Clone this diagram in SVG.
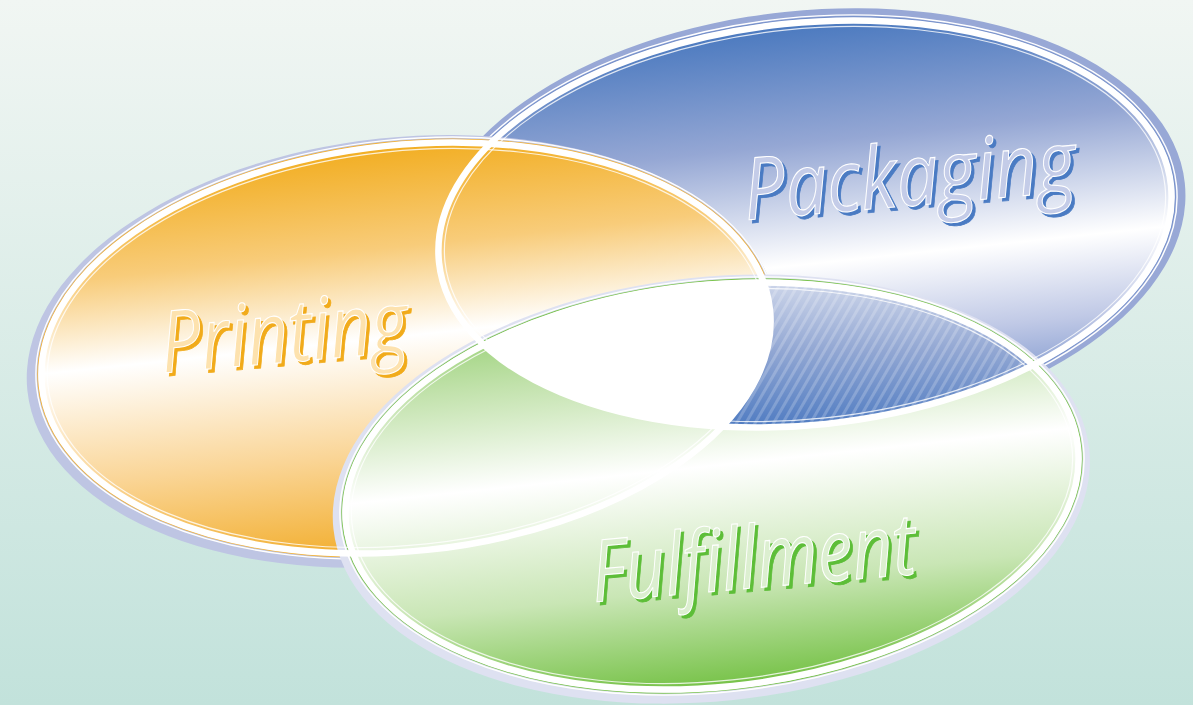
<svg xmlns="http://www.w3.org/2000/svg" width="1193" height="705" viewBox="0 0 1193 705">
<defs>
  <linearGradient id="bg" x1="0" y1="0" x2="0" y2="1">
    <stop offset="0" stop-color="#F1F6F3"/>
    <stop offset="1" stop-color="#C2E2DB"/>
  </linearGradient>
  <linearGradient id="gP" x1="0" y1="0" x2="0" y2="1">
    <stop offset="0" stop-color="#F2AE22"/>
    <stop offset="0.25" stop-color="#F8CC7A"/>
    <stop offset="0.47" stop-color="#FFFFFF"/>
    <stop offset="0.75" stop-color="#FAD596"/>
    <stop offset="1" stop-color="#F2AE2E"/>
  </linearGradient>
  <linearGradient id="gK" x1="0" y1="0" x2="0" y2="1">
    <stop offset="0" stop-color="#4A79BF"/>
    <stop offset="0.3" stop-color="#95A7D4"/>
    <stop offset="0.6" stop-color="#FFFFFF"/>
    <stop offset="0.8" stop-color="#C0C9E6"/>
    <stop offset="1" stop-color="#6D8AC7"/>
  </linearGradient>
  <linearGradient id="gF" x1="0" y1="0" x2="0" y2="1">
    <stop offset="0" stop-color="#8CCB65"/>
    <stop offset="0.2" stop-color="#C2E2AC"/>
    <stop offset="0.45" stop-color="#FFFFFF"/>
    <stop offset="0.75" stop-color="#C9E6B5"/>
    <stop offset="1" stop-color="#76C247"/>
  </linearGradient>
  <linearGradient id="gKF" gradientUnits="userSpaceOnUse" x1="0" y1="285" x2="0" y2="430">
    <stop offset="0" stop-color="#CBD4E9"/>
    <stop offset="0.45" stop-color="#92A7D3"/>
    <stop offset="1" stop-color="#4D7AC1"/>
  </linearGradient>
  <pattern id="stripes" patternUnits="userSpaceOnUse" width="8" height="8" patternTransform="rotate(30)">
    <rect x="0" y="0" width="3" height="8" fill="#FFFFFF" fill-opacity="0.2"/>
  </pattern>
  <ellipse id="E" cx="0" cy="0" rx="368" ry="201"/>
  <ellipse id="EP" cx="0" cy="0" rx="366" ry="203"/>
  <clipPath id="cP"><use href="#EP" transform="translate(406 348) rotate(-6)"/></clipPath>
  <clipPath id="cK"><use href="#E" transform="translate(805 224) rotate(-6)"/></clipPath>
  <clipPath id="cF"><use href="#E" transform="translate(712 486) rotate(-6)"/></clipPath>
  <style>
    .lbl { font-family: "Open Sans", "DejaVu Sans", sans-serif; font-style: italic; font-weight: 400; font-size: 86px; }
    .ring { fill: none; stroke: #FFFFFF; stroke-width: 6.5; }
    .thinw { fill: none; stroke: #FFFFFF; stroke-width: 1.2; }
  </style>
</defs>

<rect x="0" y="0" width="1193" height="705" fill="url(#bg)"/>

<!-- Packaging base -->
<g id="packaging-base" transform="translate(805 224) rotate(-6)">
  <ellipse cx="2" cy="-1" rx="380" ry="212" fill="#98A8D6"/>
  <ellipse cx="0" cy="0" rx="373.5" ry="206.5" fill="none" stroke="#FFFFFF" stroke-width="1.4"/>
  <ellipse cx="0" cy="0" rx="371.5" ry="204.5" fill="none" stroke="#6F8CC8" stroke-width="1.2"/>
  <use href="#E" fill="url(#gK)"/>
</g>

<!-- Printing base -->
<g id="printing-base" transform="translate(406 348) rotate(-6)">
  <ellipse cx="-4" cy="3" rx="377" ry="214" fill="#BEC5E3"/>
  <ellipse cx="0" cy="0" rx="371.5" ry="208.5" fill="none" stroke="#FFFFFF" stroke-width="1.4"/>
  <ellipse cx="0" cy="0" rx="369.5" ry="206.5" fill="none" stroke="#F3B33A" stroke-width="1.2"/>
  <use href="#EP" fill="url(#gP)"/>
</g>

<!-- Fulfillment base -->
<g id="fulfillment-base" transform="translate(712 486) rotate(-6)">
  <ellipse cx="-1" cy="3" rx="380" ry="212" fill="#DEE1F1"/>
  <ellipse cx="0" cy="0" rx="373.5" ry="206.5" fill="none" stroke="#FFFFFF" stroke-width="1.4"/>
  <ellipse cx="0" cy="0" rx="371.5" ry="204.5" fill="none" stroke="#7CC450" stroke-width="1.2"/>
  <use href="#E" fill="url(#gF)"/>
</g>

<!-- Packaging ∩ Fulfillment -->
<g id="overlap-kf" clip-path="url(#cK)">
  <g clip-path="url(#cF)">
    <rect x="400" y="250" width="800" height="220" fill="url(#gKF)"/>
    <rect x="400" y="250" width="800" height="220" fill="url(#stripes)"/>
  </g>
</g>

<!-- triple intersection -->
<g id="overlap-all" clip-path="url(#cK)">
  <g clip-path="url(#cF)">
    <g clip-path="url(#cP)">
      <rect x="400" y="250" width="400" height="220" fill="#FFFFFF"/>
    </g>
  </g>
</g>

<!-- rings on top -->
<g id="rings">
  <g transform="translate(805 224) rotate(-6)">
    <use href="#E" class="ring"/>
    <ellipse cx="0" cy="0" rx="362" ry="195" class="thinw" opacity="0.8"/>
  </g>
  <g transform="translate(406 348) rotate(-6)">
    <use href="#EP" class="ring"/>
    <ellipse cx="0" cy="0" rx="360" ry="197" class="thinw" opacity="0.8"/>
  </g>
  <g transform="translate(712 486) rotate(-6)">
    <use href="#E" class="ring"/>
    <ellipse cx="0" cy="0" rx="362" ry="195" class="thinw" opacity="0.8"/>
  </g>
</g>

<!-- labels -->
<g id="printing">
  <g transform="translate(163 373) rotate(-5)">
    <text x="3" y="3.5" class="lbl" fill="#F1AB1B" stroke="#F1AB1B" stroke-width="0.8" textLength="248" lengthAdjust="spacingAndGlyphs">Printing</text>
    <text x="0" y="0" class="lbl" fill="#FDE2AE" stroke="#FFFFFF" stroke-width="1.1" textLength="248" lengthAdjust="spacingAndGlyphs">Printing</text>
  </g>
</g>
<g id="packaging">
  <g transform="translate(746 220) rotate(-5)">
    <text x="3" y="3.5" class="lbl" fill="#4A7BC3" stroke="#4A7BC3" stroke-width="0.8" textLength="333" lengthAdjust="spacingAndGlyphs">Packaging</text>
    <text x="0" y="0" class="lbl" fill="#C4CCE8" stroke="#FFFFFF" stroke-width="1.1" textLength="333" lengthAdjust="spacingAndGlyphs">Packaging</text>
  </g>
</g>
<g id="fulfillment">
  <g transform="translate(594 602) rotate(-5)">
    <text x="3" y="3.5" class="lbl" fill="#5DBE38" stroke="#5DBE38" stroke-width="0.8" textLength="325" lengthAdjust="spacingAndGlyphs">Fulfillment</text>
    <text x="0" y="0" class="lbl" fill="#DCEFD0" stroke="#FFFFFF" stroke-width="1.1" textLength="325" lengthAdjust="spacingAndGlyphs">Fulfillment</text>
  </g>
</g>
</svg>
